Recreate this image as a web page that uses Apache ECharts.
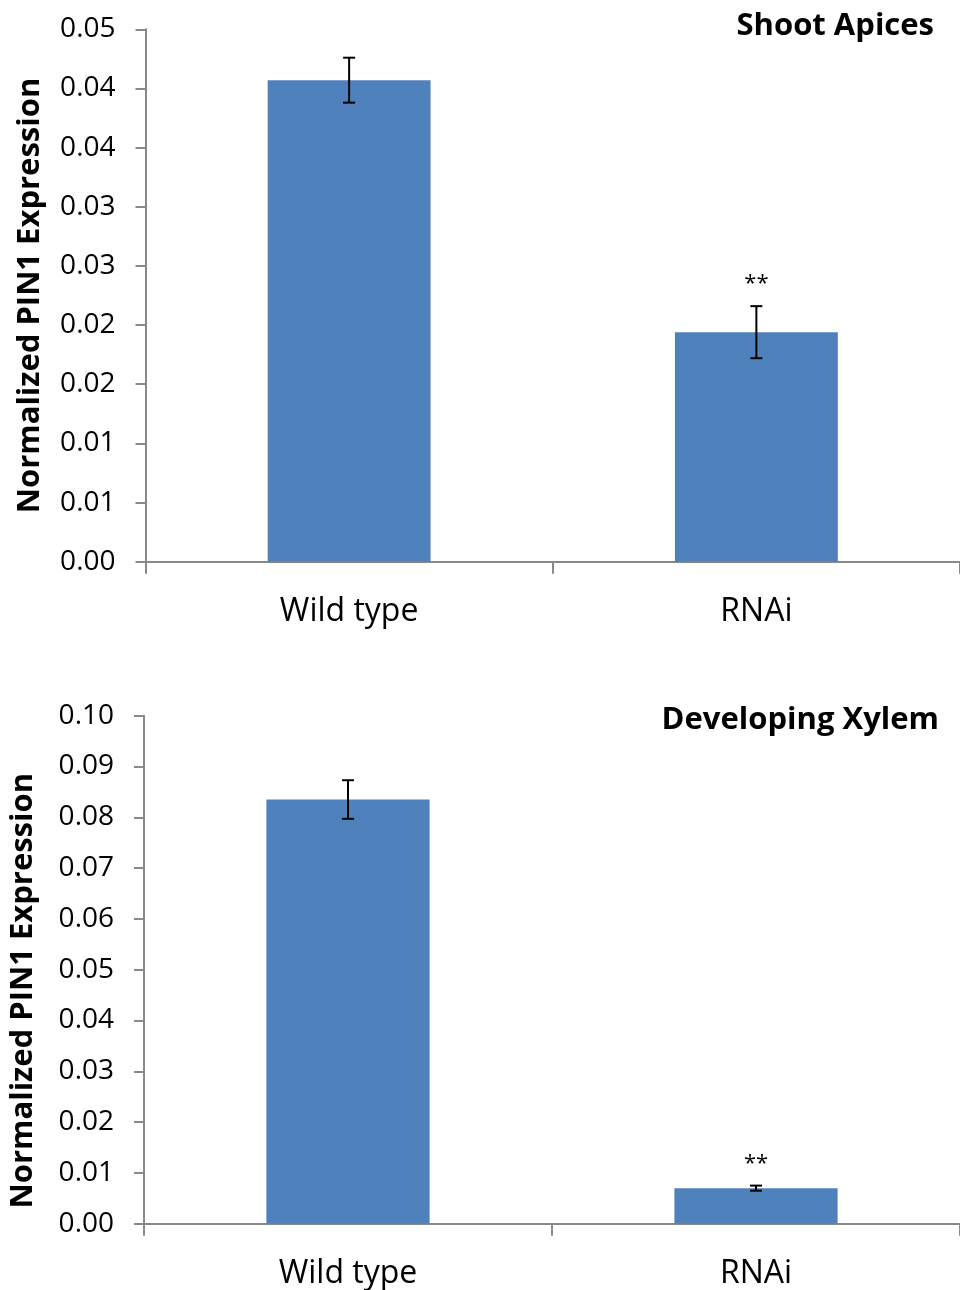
<!DOCTYPE html>
<html>
<head>
<meta charset="utf-8">
<script src="https://cdn.jsdelivr.net/npm/echarts@6/dist/echarts.min.js"></script>
<style>
  html, body { margin: 0; padding: 0; background: #ffffff; }
  #chart { width: 960px; height: 1290px; }
</style>
</head>
<body>
<div id="chart"></div>
<script>
// ---- data ----
const categories = ['Wild type', 'RNAi'];
const apicesValues = [0.0407, 0.0194];
const apicesErrors = [0.0019, 0.0022];
const xylemValues = [0.0835, 0.0070];
const xylemErrors = [0.0038, 0.0005];
const significance = ['', '**'];
const apicesTickLabels = ['0.00', '0.01', '0.01', '0.02', '0.02', '0.03', '0.03', '0.04', '0.04', '0.05'];
const xylemTickLabels = ['0.00', '0.01', '0.02', '0.03', '0.04', '0.05', '0.06', '0.07', '0.08', '0.09', '0.10'];
const apicesTitle = 'Shoot Apices';
const xylemTitle = 'Developing Xylem';
const yName = 'Normalized PIN1 Expression';

// ---- styles ----
const FONT = 'Open Sans';
const AXIS_COLOR = '#898989';
const BAR_COLOR = '#4F81BD';

const chart = echarts.init(document.getElementById('chart'), null, { renderer: 'canvas' });

function errorSeries(values, errors, axisIndex) {
  return {
    type: 'custom',
    xAxisIndex: axisIndex,
    yAxisIndex: axisIndex,
    z: 10,
    clip: false,
    data: values.map((v, i) => [i, v - errors[i], v + errors[i]]),
    renderItem: function (params, api) {
      const x = api.coord([api.value(0), api.value(1)])[0];
      const yLow = api.coord([api.value(0), api.value(1)])[1];
      const yHigh = api.coord([api.value(0), api.value(2)])[1];
      const cap = 6;
      const style = { stroke: '#000000', lineWidth: 2 };
      const children = [
        { type: 'line', shape: { x1: x, y1: yLow, x2: x, y2: yHigh }, style: style },
        { type: 'line', shape: { x1: x - cap, y1: yLow, x2: x + cap, y2: yLow }, style: style },
        { type: 'line', shape: { x1: x - cap, y1: yHigh, x2: x + cap, y2: yHigh }, style: style }
      ];
      const sig = significance[params.dataIndex];
      if (sig) {
        children.push({
          type: 'text',
          style: {
            text: sig, x: x, y: yHigh - 22,
            align: 'center', verticalAlign: 'middle',
            fontFamily: FONT, fontSize: 22, fill: '#000000'
          }
        });
      }
      return { type: 'group', children: children };
    }
  };
}

function xAxisDef(gridIndex) {
  return {
    type: 'category',
    gridIndex: gridIndex,
    data: categories,
    boundaryGap: true,
    axisLine: { show: true, lineStyle: { color: AXIS_COLOR, width: 2 } },
    axisTick: { show: true, length: 12, lineStyle: { color: AXIS_COLOR, width: 2 } },
    axisLabel: { color: '#000000', fontFamily: FONT, fontSize: 32, margin: 34 },
    splitLine: { show: false }
  };
}

function yAxisDef(gridIndex, max, interval, labels, nameGap, namePadding) {
  return {
    type: 'value',
    gridIndex: gridIndex,
    min: 0,
    max: max,
    interval: interval,
    name: yName,
    nameLocation: 'middle',
    nameGap: nameGap,
    nameRotate: 90,
    nameTextStyle: { color: '#000000', fontFamily: FONT, fontSize: 31, fontWeight: 'bold', padding: namePadding },
    axisLine: { show: true, lineStyle: { color: AXIS_COLOR, width: 2 } },
    axisTick: { show: true, length: 10, inside: false, lineStyle: { color: AXIS_COLOR, width: 2 } },
    axisLabel: {
      color: '#000000', fontFamily: FONT, fontSize: 28, margin: 30,
      formatter: function (value) {
        const idx = Math.round(value / interval);
        return labels[idx] !== undefined ? labels[idx] : '';
      }
    },
    splitLine: { show: false }
  };
}

const option = {
  backgroundColor: '#ffffff',
  animation: false,
  title: [
    {
      text: apicesTitle, right: 26, top: 11, padding: 0,
      textStyle: { fontFamily: FONT, fontSize: 31, fontWeight: 'bold', color: '#000000' }
    },
    {
      text: xylemTitle, right: 21, top: 705, padding: 0,
      textStyle: { fontFamily: FONT, fontSize: 31, fontWeight: 'bold', color: '#000000' }
    }
  ],
  grid: [
    { left: 145.5, right: -2, top: 29.3, height: 532.4 },
    { left: 141.7, right: -2, top: 715.7, height: 508 }
  ],
  xAxis: [xAxisDef(0), xAxisDef(1)],
  yAxis: [
    yAxisDef(0, 0.045, 0.005, apicesTickLabels, 100, [0, 0, 0, 0]),
    yAxisDef(1, 0.10, 0.01, xylemTickLabels, 105, [0, 42, 0, 0])
  ],
  series: [
    {
      type: 'bar', xAxisIndex: 0, yAxisIndex: 0,
      data: apicesValues, barWidth: '40%',
      itemStyle: { color: BAR_COLOR }
    },
    errorSeries(apicesValues, apicesErrors, 0),
    {
      type: 'bar', xAxisIndex: 1, yAxisIndex: 1,
      data: xylemValues, barWidth: '40%',
      itemStyle: { color: BAR_COLOR }
    },
    errorSeries(xylemValues, xylemErrors, 1)
  ]
};

chart.setOption(option);
</script>
</body>
</html>
